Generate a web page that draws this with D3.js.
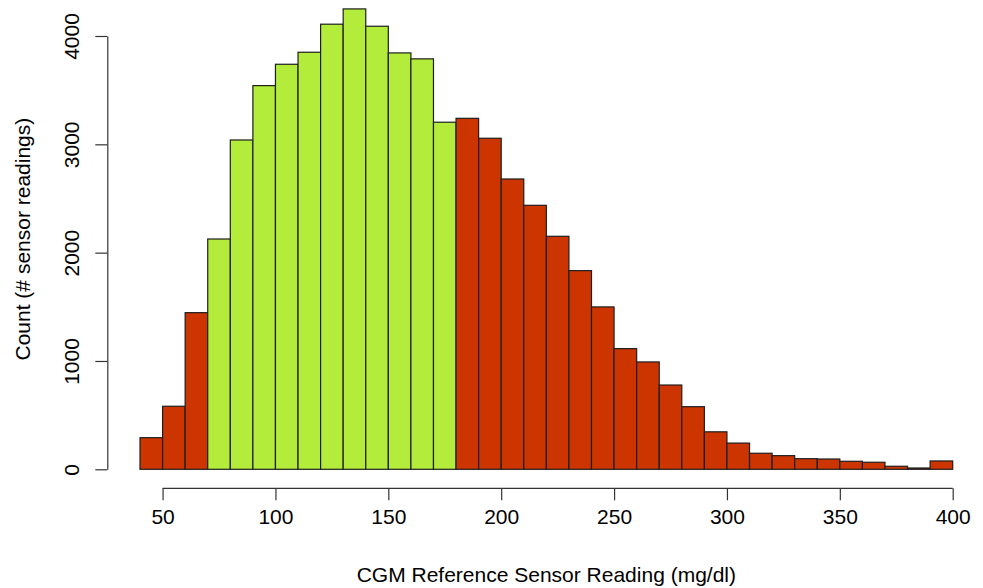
<!DOCTYPE html>
<html>
<head>
<meta charset="utf-8">
<script src="https://cdn.jsdelivr.net/npm/d3@7"></script>
<style>
	body { margin: 0; background: #fff; }
	svg text { font-family: "Liberation Sans", Arial, Helvetica, sans-serif; fill: #000; }
</style>
</head>
<body>
<svg></svg>
<script>
// histogram bins, 10 mg/dl wide
var binStarts = [40, 50, 60, 70, 80, 90, 100, 110, 120, 130, 140, 150, 160, 170, 180, 190, 200, 210,
	220, 230, 240, 250, 260, 270, 280, 290, 300, 310, 320, 330, 340, 350, 360, 370, 380, 390]
var counts = [292, 582, 1446, 2126, 3040, 3542, 3739, 3850, 4109, 4250, 4090, 3844, 3789, 3204, 3240, 3056, 2680, 2437,
	2151, 1834, 1499, 1114, 991, 778, 578, 346, 242, 148, 126, 98, 95, 74, 65, 28, 12, 77]
var binWidth = 10
var targetRange = [70, 180]
var xTicks = [50, 100, 150, 200, 250, 300, 350, 400]
var yTicks = [0, 1000, 2000, 3000, 4000]

var width = 983
var height = 588
var fontSize = '21px'
var svg = d3.select('svg')
	.attr('width', width)
	.attr('height', height)

var x = d3.scaleLinear()
	.domain([40, 400])
	.range([140, 952.7])
var y = d3.scaleLinear()
	.domain([0, 4000])
	.range([469.3, 36])

var bins = binStarts.map(function(start, i) {
	return { x0: start, x1: start + binWidth, count: counts[i] }
})

svg.append('g')
	.attr('class', 'bars')
	.selectAll('rect')
	.data(bins)
	.enter()
	.append('rect')
	.attr('x', function(d) { return x(d.x0) })
	.attr('width', function(d) { return x(d.x1) - x(d.x0) })
	.attr('y', function(d) { return y(d.count) })
	.attr('height', function(d) { return y(0) - y(d.count) })
	.attr('fill', function(d) {
		return (d.x0 >= targetRange[0] && d.x1 <= targetRange[1]) ? '#b3ec3a' : '#cc3500'
	})
	.attr('stroke', '#1e1e1e')
	.attr('stroke-width', 1.2)

// x axis, R style: line only spans the ticks
var xAxis = svg.append('g')
	.attr('transform', 'translate(0,488.3)')
	.call(d3.axisBottom(x).tickValues(xTicks).tickSize(12).tickSizeOuter(0).tickPadding(9))
xAxis.select('.domain').remove()
xAxis.append('line')
	.attr('x1', x(xTicks[0]))
	.attr('x2', x(xTicks[xTicks.length - 1]))
	.attr('stroke', '#333')
	.attr('stroke-width', 1.2)
xAxis.selectAll('.tick line').attr('stroke', '#333').attr('stroke-width', 1.2)
xAxis.selectAll('.tick text')
	.attr('font-size', fontSize)
	.attr('font-family', '"Liberation Sans", Arial, sans-serif')
	.attr('fill', '#000')
	.attr('dy', '0.71em')

// y axis with rotated labels
var yAxis = svg.append('g')
	.attr('transform', 'translate(107.3,0)')
	.call(d3.axisLeft(y).tickValues(yTicks).tickFormat(d3.format('d')).tickSize(12).tickSizeOuter(0))
yAxis.select('.domain').attr('stroke', '#333').attr('stroke-width', 1.2)
yAxis.selectAll('.tick line').attr('stroke', '#333').attr('stroke-width', 1.2)
yAxis.selectAll('.tick text')
	.attr('transform', 'rotate(-90)')
	.attr('x', 0)
	.attr('y', -28.5)
	.attr('dy', 0)
	.attr('text-anchor', 'middle')
	.attr('font-size', fontSize)
	.attr('font-family', '"Liberation Sans", Arial, sans-serif')
	.attr('fill', '#000')

svg.append('text')
	.attr('x', x(220))
	.attr('y', 582)
	.attr('text-anchor', 'middle')
	.attr('font-size', fontSize)
	.text('CGM Reference Sensor Reading (mg/dl)')

svg.append('text')
	.attr('transform', 'translate(30,' + y(2125) + ') rotate(-90)')
	.attr('text-anchor', 'middle')
	.attr('font-size', fontSize)
	.text('Count (# sensor readings)')
</script>
</body>
</html>
